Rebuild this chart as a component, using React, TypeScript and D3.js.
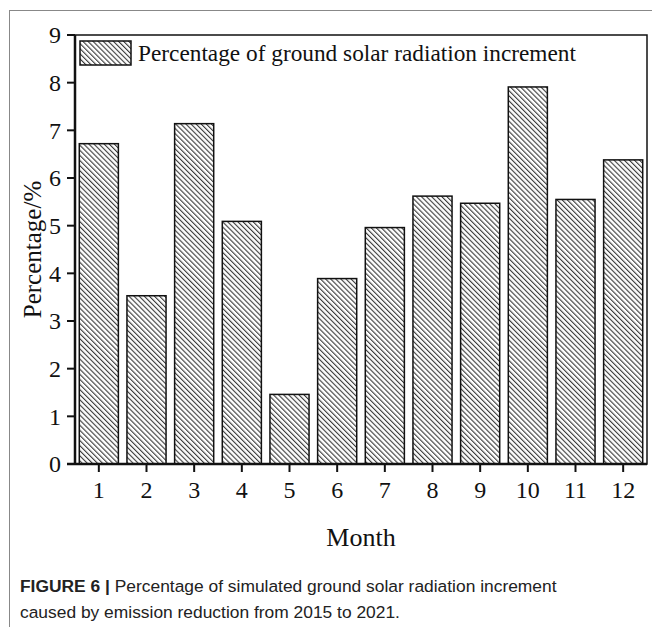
import * as d3 from "d3";

const months = ["1", "2", "3", "4", "5", "6", "7", "8", "9", "10", "11", "12"];
const percentIncrement = [6.72, 3.53, 7.14, 5.09, 1.46, 3.89, 4.96, 5.62, 5.47, 7.91, 5.55, 6.38];
const yTicks = [0, 1, 2, 3, 4, 5, 6, 7, 8, 9];
const legendLabel = "Percentage of ground solar radiation increment";

const W = 652;
const H = 627;
const plot = { left: 75, right: 647, top: 35, bottom: 464 };

const App = () => {
  const x = d3
    .scaleBand<string>()
    .domain(months)
    .range([plot.left, plot.right])
    .paddingInner(0.18)
    .paddingOuter(0.09);
  const y = d3.scaleLinear().domain([0, 9]).range([plot.bottom, plot.top]);

  const serif = "'Liberation Serif', 'Times New Roman', serif";
  const sans = "'Liberation Sans', Arial, sans-serif";

  return (
    <svg
      width={W}
      height={H}
      style={{ position: "absolute", left: 0, top: 0, background: "#fff" }}
    >
      <defs>
        <pattern
          id="hatch"
          patternUnits="userSpaceOnUse"
          width={3.6}
          height={3.6}
          patternTransform="rotate(-45)"
        >
          <rect width={3.6} height={3.6} fill="#fff" />
          <line x1={0.6} y1={0} x2={0.6} y2={3.6} stroke="#222" strokeWidth={1} />
        </pattern>
      </defs>

      {/* figure frame */}
      <line x1={9} y1={10.5} x2={W} y2={10.5} stroke="#888" strokeWidth={1} />
      <line x1={9.5} y1={10} x2={9.5} y2={H} stroke="#888" strokeWidth={1} />

      {/* bars */}
      {percentIncrement.map((v, i) => (
        <rect
          key={months[i]}
          x={x(months[i])}
          y={y(v)}
          width={x.bandwidth()}
          height={y(0) - y(v)}
          fill="url(#hatch)"
          stroke="#111"
          strokeWidth={1.5}
        />
      ))}

      {/* plot box */}
      <rect
        x={plot.left}
        y={plot.top}
        width={plot.right - plot.left}
        height={plot.bottom - plot.top}
        fill="none"
        stroke="#111"
        strokeWidth={1.5}
      />
      <line x1={plot.left} y1={plot.top} x2={plot.left} y2={plot.bottom} stroke="#111" strokeWidth={2.5} />
      <line x1={plot.left - 8} y1={plot.bottom} x2={plot.right} y2={plot.bottom} stroke="#111" strokeWidth={2.5} />

      {/* y ticks */}
      {yTicks.map((t) => (
        <g key={t}>
          <line x1={plot.left - 8} x2={plot.left} y1={y(t)} y2={y(t)} stroke="#111" strokeWidth={2} />
          <text
            x={plot.left - 14}
            y={y(t)}
            dy="0.35em"
            textAnchor="end"
            fontFamily={serif}
            fontSize={24}
            fill="#111"
          >
            {t}
          </text>
        </g>
      ))}

      {/* x ticks */}
      {months.map((m) => {
        const cx = (x(m) as number) + x.bandwidth() / 2;
        return (
          <g key={m}>
            <line x1={cx} x2={cx} y1={plot.bottom} y2={plot.bottom + 8} stroke="#111" strokeWidth={2} />
            <text
              x={cx}
              y={plot.bottom + 26}
              dy="0.35em"
              textAnchor="middle"
              fontFamily={serif}
              fontSize={24}
              fill="#111"
            >
              {m}
            </text>
          </g>
        );
      })}

      {/* axis titles */}
      <text
        x={(plot.left + plot.right) / 2}
        y={537}
        dy="0.35em"
        textAnchor="middle"
        fontFamily={serif}
        fontSize={26}
        fill="#111"
      >
        Month
      </text>
      <text
        transform={`translate(32, ${(plot.top + plot.bottom) / 2}) rotate(-90)`}
        dy="0.35em"
        textAnchor="middle"
        fontFamily={serif}
        fontSize={25}
        fill="#111"
      >
        Percentage/%
      </text>

      {/* legend */}
      <rect x={80} y={41} width={51} height={24} fill="url(#hatch)" stroke="#111" strokeWidth={1.5} />
      <text x={138} y={53} dy="0.35em" fontFamily={serif} fontSize={23.3} fill="#111">
        {legendLabel}
      </text>

      {/* caption */}
      <text x={20} y={592} fontFamily={sans} fontSize={17.4} fill="#222">
        <tspan fontWeight="bold">FIGURE 6 |</tspan>
        <tspan> Percentage of simulated ground solar radiation increment</tspan>
      </text>
      <text x={20} y={618} fontFamily={sans} fontSize={17.4} fill="#222">
        caused by emission reduction from 2015 to 2021.
      </text>
    </svg>
  );
};

export default App;
